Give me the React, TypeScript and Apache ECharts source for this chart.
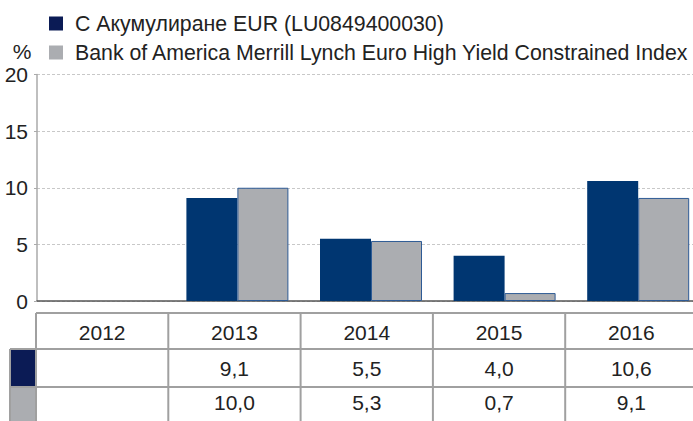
import React, { useEffect, useRef } from "react";
import * as echarts from "echarts";

const categories = ["2012", "2013", "2014", "2015", "2016"];
const fundName = "С Акумулиране EUR (LU0849400030)";
const indexName = "Bank of America Merrill Lynch Euro High Yield Constrained Index";
const fundValues: (number | null)[] = [null, 9.1, 5.5, 4.0, 10.6];
const indexValues: (number | null)[] = [null, 10.0, 5.3, 0.7, 9.1];
const yTicks = [0, 5, 10, 15, 20];

const FONT = "'Liberation Sans', Arial, sans-serif";
const DARK = "#003671";
const DARK_SWATCH = "#0b1b55";
const GRAY = "#abadb1";
const LINE = "#a0a0a0";
const TXT = "#222222";

const fmt = (v: number | null) => (v == null ? "" : v.toFixed(1).replace(".", ","));

export default function App() {
  const ref = useRef<HTMLDivElement>(null);
  useEffect(() => {
    if (!ref.current) return;
    const chart = echarts.init(ref.current, null, { renderer: "svg" });

    const tLeft = 36;
    const colW = 132.3;
    const tTop = 313;
    const r1 = 349;
    const r2 = 387;
    const r3 = 425;
    const W = 693;
    const H = 421;
    const swL = 10;

    const g: any[] = [];
    g.push({ type: "rect", shape: { x: swL, y: r1, width: tLeft - swL, height: r2 - r1 }, style: { fill: DARK_SWATCH } });
    g.push({ type: "rect", shape: { x: swL, y: r2, width: tLeft - swL, height: r3 - r2 }, style: { fill: GRAY } });
    g.push({ type: "line", shape: { x1: tLeft, y1: tTop, x2: W, y2: tTop }, style: { stroke: LINE, lineWidth: 2 } });
    g.push({ type: "line", shape: { x1: swL, y1: r1, x2: W, y2: r1 }, style: { stroke: LINE, lineWidth: 2 } });
    g.push({ type: "line", shape: { x1: swL, y1: r2, x2: W, y2: r2 }, style: { stroke: LINE, lineWidth: 2 } });
    g.push({ type: "line", shape: { x1: swL, y1: r1, x2: swL, y2: H }, style: { stroke: LINE, lineWidth: 2 } });
    for (let k = 0; k < categories.length; k++) {
      const x = tLeft + colW * k;
      g.push({ type: "line", shape: { x1: x, y1: tTop, x2: x, y2: H }, style: { stroke: LINE, lineWidth: 2 } });
    }
    categories.forEach((c, k) => {
      const cx = tLeft + colW * (k + 0.5);
      g.push({ type: "text", x: cx, y: (tTop + r1) / 2 + 1, style: { text: c, font: `21px ${FONT}`, fill: TXT, align: "center", verticalAlign: "middle" } });
      g.push({ type: "text", x: cx, y: (r1 + r2) / 2, style: { text: fmt(fundValues[k]), font: `21px ${FONT}`, fill: TXT, align: "center", verticalAlign: "middle" } });
      g.push({ type: "text", x: cx, y: (r2 + r3) / 2 - 4, style: { text: fmt(indexValues[k]), font: `21px ${FONT}`, fill: TXT, align: "center", verticalAlign: "middle" } });
    });
    g.push({ type: "text", x: 22, y: 51, style: { text: "%", font: `21px ${FONT}`, fill: TXT, align: "center", verticalAlign: "middle" } });

    chart.setOption({
      animation: false,
      textStyle: { fontFamily: FONT },
      legend: {
        orient: "vertical",
        left: 44,
        top: 8,
        itemWidth: 14,
        itemHeight: 14,
        itemGap: 8,
        icon: "rect",
        selectedMode: false,
        textStyle: { fontSize: 21.3, color: TXT, fontFamily: FONT, padding: [0, 0, 0, 7] },
        data: [
          { name: fundName, itemStyle: { color: DARK_SWATCH, borderWidth: 0 } },
          { name: indexName, itemStyle: { color: GRAY, borderWidth: 0 } },
        ],
      },
      grid: { left: 37, top: 74.5, height: 226.5, width: 668 },
      xAxis: {
        type: "category",
        data: categories,
        axisLine: { lineStyle: { color: "#555555", width: 1.5 } },
        axisTick: { show: false },
        axisLabel: { show: false },
      },
      yAxis: {
        type: "value",
        min: yTicks[0],
        max: yTicks[yTicks.length - 1],
        interval: 5,
        axisLine: { show: true, lineStyle: { color: "#aaaaaa", width: 1.5 } },
        axisTick: { show: true, length: 3, lineStyle: { color: "#aaaaaa" } },
        axisLabel: { fontSize: 21, color: TXT, fontFamily: FONT, margin: 9 },
        splitLine: { show: true, lineStyle: { color: "#c8c8c8", type: [3, 2], width: 1 } },
      },
      series: [
        {
          name: fundName,
          type: "bar",
          data: fundValues,
          barWidth: 51,
          barGap: "0%",
          itemStyle: { color: DARK },
        },
        {
          name: indexName,
          type: "bar",
          data: indexValues,
          barWidth: 51,
          barGap: "0%",
          itemStyle: { color: GRAY, borderColor: "#2e5b95", borderWidth: 1 },
        },
      ],
      graphic: g,
    });
    return () => chart.dispose();
  }, []);
  return (
    <div style={{ position: "absolute", left: 0, top: 0, width: 693, height: 421, overflow: "hidden", background: "#fff" }}>
      <div ref={ref} style={{ width: 720, height: 421 }} />
    </div>
  );
}
